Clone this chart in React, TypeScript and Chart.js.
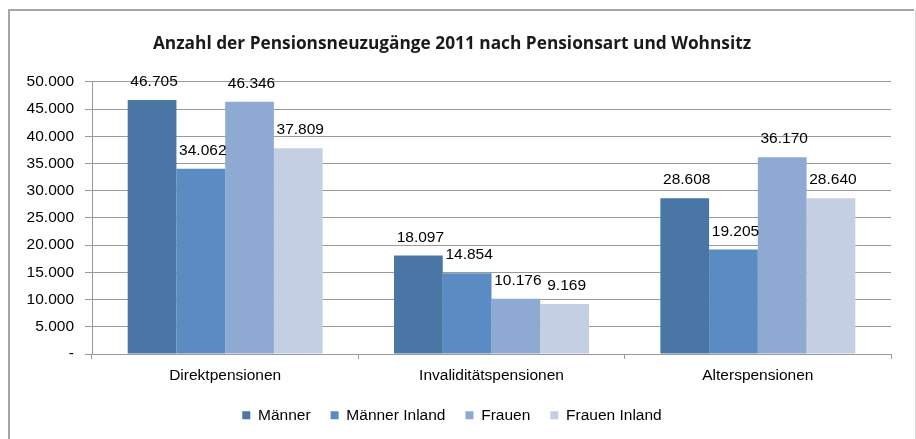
import React, { useEffect, useRef } from "react";
import { Chart, registerables } from "chart.js";

Chart.register(...registerables);

const categories = ["Direktpensionen", "Invaliditätspensionen", "Alterspensionen"];
const seriesNames = ["Männer", "Männer Inland", "Frauen", "Frauen Inland"];
const maenner = [46705, 18097, 28608];
const maennerInland = [34062, 14854, 19205];
const frauen = [46346, 10176, 36170];
const frauenInland = [37809, 9169, 28640];
const seriesColors = ["#4A76A5", "#5A8CC3", "#8EAAD3", "#C4CFE4"];
const titleText = "Anzahl der Pensionsneuzugänge 2011 nach Pensionsart und Wohnsitz";

const fmt = (v: number) =>
  v === 0 ? "-" : String(v).replace(/\B(?=(\d{3})+(?!\d))/g, ".");

const FONT = "'Liberation Sans', Arial, sans-serif";

const framePlugin = {
  id: "frame",
  beforeDraw(chart: any) {
    const ctx = chart.ctx;
    ctx.save();
    ctx.fillStyle = "#ffffff";
    ctx.fillRect(0, 0, chart.width, chart.height);
    ctx.strokeStyle = "#a6a6a6";
    ctx.lineWidth = 2;
    ctx.beginPath();
    ctx.moveTo(9, chart.height + 5);
    ctx.lineTo(9, 10);
    ctx.lineTo(914, 10);
    ctx.stroke();
    ctx.strokeStyle = "#d9d9d9";
    ctx.lineWidth = 1;
    ctx.beginPath();
    ctx.moveTo(915.5, 10);
    ctx.lineTo(915.5, chart.height + 5);
    ctx.stroke();
    ctx.restore();
  },
};

const valueLabelPlugin = {
  id: "valueLabels",
  afterDatasetsDraw(chart: any) {
    const ctx = chart.ctx;
    ctx.save();
    ctx.font = `15.5px ${FONT}`;
    ctx.fillStyle = "#000000";
    ctx.textAlign = "center";
    ctx.textBaseline = "alphabetic";
    chart.data.datasets.forEach((ds: any, i: number) => {
      const meta = chart.getDatasetMeta(i);
      meta.data.forEach((el: any, j: number) => {
        ctx.fillText(fmt(ds.data[j]), el.x + 2, el.y - 14);
      });
    });
    ctx.restore();
  },
};

export default function App() {
  const ref = useRef<HTMLCanvasElement | null>(null);
  useEffect(() => {
    if (!ref.current) return;
    const seriesData = [maenner, maennerInland, frauen, frauenInland];
    const chart = new Chart(ref.current, {
      type: "bar",
      data: {
        labels: categories,
        datasets: seriesNames.map((name, i) => ({
          label: name,
          data: seriesData[i],
          backgroundColor: seriesColors[i],
          borderWidth: 0,
          barPercentage: 1,
          categoryPercentage: 0.732,
        })),
      },
      options: {
        responsive: false,
        animation: false,
        layout: { padding: { left: 13, right: 25, top: 0, bottom: 6 } },
        plugins: {
          tooltip: { enabled: false },
          title: {
            display: true,
            text: titleText,
            color: "#1a1a1a",
            font: { family: "'Open Sans', sans-serif", size: 17.3, weight: "bold", lineHeight: 1.2 },
            padding: { top: 33.5, bottom: 27.7 },
          },
          legend: {
            position: "bottom",
            labels: {
              color: "#000000",
              font: { family: FONT, size: 15.5 },
              boxWidth: 8,
              boxHeight: 8,
              padding: 20,
            },
          },
        },
        scales: {
          x: {
            afterFit: (scale: any) => {
              scale.height = 33.5;
            },
            grid: {
              drawOnChartArea: false,
              drawTicks: true,
              tickLength: 5,
              color: "#9a9a9a",
            },
            border: { color: "#9a9a9a", width: 1 },
            ticks: {
              color: "#000000",
              font: { family: FONT, size: 15.5 },
              padding: 7.2,
              maxRotation: 0,
            },
          },
          y: {
            min: 0,
            max: 50000,
            afterFit: (scale: any) => {
              scale.width = 79;
            },
            grid: {
              color: "#9a9a9a",
              tickLength: 7,
              drawTicks: true,
            },
            border: { color: "#9a9a9a", width: 1 },
            ticks: {
              stepSize: 5000,
              color: "#000000",
              font: { family: FONT, size: 15.5 },
              padding: 11,
              callback: (v: any) => fmt(Number(v)),
            },
          },
        },
      },
      plugins: [framePlugin, valueLabelPlugin],
    });
    return () => chart.destroy();
  }, []);
  return (
    <div style={{ position: "absolute", left: 0, top: 0, width: 916, height: 439 }}>
      <canvas ref={ref} width={916} height={439} />
    </div>
  );
}
